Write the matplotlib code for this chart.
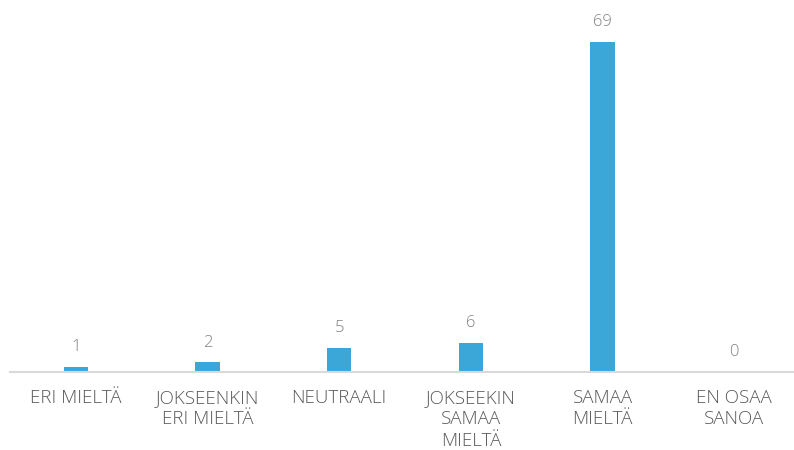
import matplotlib
matplotlib.use("Agg")
from matplotlib import pyplot as plt
import numpy as np

# vastausvaihtoehdot ja vastausmäärät
kategoriat = ["ERI MIELTÄ", "JOKSEENKIN\nERI MIELTÄ", "NEUTRAALI",
              "JOKSEEKIN\nSAMAA\nMIELTÄ", "SAMAA\nMIELTÄ", "EN OSAA\nSANOA"]
arvot = [1, 2, 5, 6, 69, 0]

plt.rcParams['font.family'] = ['Open Sans', 'DejaVu Sans']

fig = plt.figure(figsize=(7.94, 4.50), dpi=100)
ax = fig.add_axes([10 / 794, 78 / 450, 790 / 794, 372 / 450])

x = np.arange(len(kategoriat))
palkit = ax.bar(x, arvot, width=0.185, color="#3BA7D9", zorder=2)

ax.set_xlim(-0.5, len(kategoriat) - 0.5)
ax.set_ylim(0, 69 * 372 / 330)

# arvot palkkien päälle
for xi, v in zip(x, arvot):
    ax.annotate(str(v), (xi, v), xytext=(0, 8.5), textcoords="offset points",
                ha="center", va="bottom", fontsize=12, color="#808080",
                fontweight="light")

ax.set_xticks(x)
ax.set_xticklabels(kategoriat, fontsize=13.5, color="#595959",
                   linespacing=1.25, fontweight="light")
ax.tick_params(axis="x", length=0, pad=12)
ax.set_yticks([])

for s in ["top", "right", "left"]:
    ax.spines[s].set_visible(False)
ax.spines["bottom"].set_color("#D9D9D9")
ax.spines["bottom"].set_linewidth(1.5)

fig.savefig("out.png", dpi=100)
